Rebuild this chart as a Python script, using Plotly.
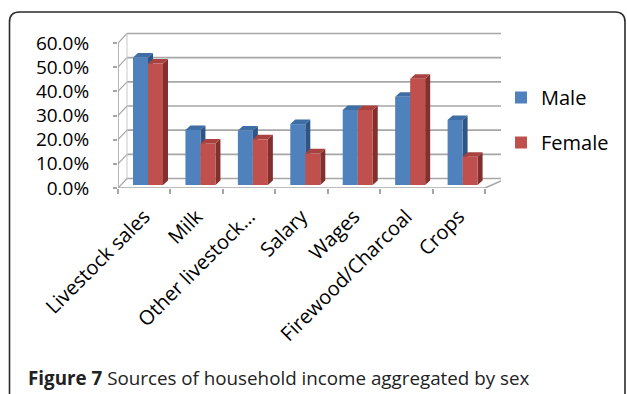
import plotly.graph_objects as go

categories = ["Livestock sales", "Milk", "Other livestock…", "Salary", "Wages",
              "Firewood/Charcoal", "Crops"]
male = [52.8, 22.8, 22.5, 25.2, 31.0, 36.5, 26.9]
female = [50.3, 17.2, 18.9, 13.1, 31.0, 44.0, 11.7]
y_ticks = [0, 10, 20, 30, 40, 50, 60]
series_names = ["Male", "Female"]

# ---- layout geometry (pixels) ----
W, H = 627, 394
PL, PR, PT, PB = 118, 501, 32, 188        # plot area edges
n = len(categories)
XU = (485 - 118) / n                      # px per category unit
YU = (188 - 43) / 60.0                    # px per percent
x_lo = -0.5
x_hi = x_lo + (PR - PL) / XU
y_lo = 0.0
y_hi = (PB - PT) / YU

def ux(px):  # pixels -> x data units
    return px / XU

def uy(px):
    return px / YU

# 3D offsets
BX, BY = ux(9), uy(9.5)       # back wall
DX, DY = ux(5), uy(4.5)       # bar depth
BASE = uy(3)                  # bar base lift
BW = ux(15)                   # bar width
SHIFT = ux(3.8)

blue, red = "#4F81BD", "#C0504D"
blue_top, blue_side = "#3F6DA6", "#2F5587"
red_top, red_side = "#A9423F", "#82302E"
grid = "#A6A6A6"

fig = go.Figure()
offsets = [SHIFT - BW, SHIFT]
colors = [blue, red]
for name, vals, off, col in zip(series_names, [male, female], offsets, colors):
    fig.add_trace(go.Bar(
        x=list(range(n)), y=vals, base=[BASE] * n, name=name,
        width=BW, offset=off, marker=dict(color=col, line=dict(width=0)),
        legendgroup=name))

shapes = []
# back wall gridlines + side wall diagonals
for v in y_ticks:
    shapes.append(dict(type="line", xref="x", yref="y",
                       x0=x_lo + BX, x1=x_hi, y0=v + BY, y1=v + BY,
                       line=dict(color=grid, width=1.6), layer="below"))
    shapes.append(dict(type="line", xref="x", yref="y",
                       x0=x_lo, x1=x_lo + BX, y0=v, y1=v + BY,
                       line=dict(color=grid, width=1.2), layer="below"))
# back wall left vertical
shapes.append(dict(type="line", xref="x", yref="y",
                   x0=x_lo + BX, x1=x_lo + BX, y0=BY, y1=60 + BY,
                   line=dict(color="#C8C8C8", width=1), layer="below"))
# front axes
shapes.append(dict(type="line", xref="x", yref="y",
                   x0=x_lo, x1=x_lo, y0=0, y1=60,
                   line=dict(color=grid, width=1.6), layer="below"))
shapes.append(dict(type="line", xref="x", yref="y",
                   x0=x_lo, x1=n - 0.5, y0=0, y1=0,
                   line=dict(color=grid, width=1.6), layer="below"))
# floor right edge
shapes.append(dict(type="line", xref="x", yref="y",
                   x0=n - 0.5, x1=x_hi, y0=0, y1=uy(7),
                   line=dict(color=grid, width=1.6), layer="below"))

# bar 3D faces, computed from the data
for vals, off, top_c, side_c in [(male, offsets[0], blue_top, blue_side),
                                 (female, offsets[1], red_top, red_side)]:
    for i, v in enumerate(vals):
        x0 = i + off
        x1 = x0 + BW
        b = BASE
        t = BASE + v
        top = f"M {x0},{t} L {x1},{t} L {x1+DX},{t+DY} L {x0+DX},{t+DY} Z"
        side = f"M {x1},{b} L {x1},{t} L {x1+DX},{t+DY} L {x1+DX},{b+DY} Z"
        shapes.append(dict(type="path", xref="x", yref="y", path=side,
                           fillcolor=side_c, line=dict(width=0), layer="below"))
        shapes.append(dict(type="path", xref="x", yref="y", path=top,
                           fillcolor=top_c, line=dict(width=0), layer="below"))

# outer rounded frame (paper coords)
pw, ph = PR - PL, PB - PT
def px2paper(px, py):
    return (px - PL) / pw, (PB - py) / ph
r = 10
fx0, fy0, fx1, fy1 = 9.5, 12, 625, 420
def P(px, py):
    a, b = px2paper(px, py)
    return f"{a},{b}"
frame = (f"M {P(fx0, fy1)} L {P(fx0, fy0 + r)} Q {P(fx0, fy0)} {P(fx0 + r, fy0)} "
         f"L {P(fx1 - r, fy0)} Q {P(fx1, fy0)} {P(fx1, fy0 + r)} L {P(fx1, fy1)}")
shapes.append(dict(type="path", xref="paper", yref="paper", path=frame,
                   line=dict(color="#2b2b2b", width=1.6)))

cap_x, cap_y = px2paper(26, 378)
lg_x, lg_y = px2paper(501, 78)

fig.update_layout(
    width=W, height=H,
    margin=dict(l=PL, r=W - PR, t=PT, b=H - PB, pad=0),
    paper_bgcolor="white", plot_bgcolor="white",
    barmode="overlay",
    shapes=shapes,
    font=dict(family="Open Sans", size=19, color="black"),
    xaxis=dict(range=[x_lo, x_hi], showgrid=False, zeroline=False, showline=False,
               tickvals=[i + 0.0 for i in range(n)], ticktext=categories,
               tickangle=-45, ticks="", ticklabelstandoff=12,
               tickfont=dict(size=20),
               minor=dict(tickvals=[i - 0.5 for i in range(n + 1)], ticks="outside",
                          ticklen=5, tickcolor=grid, tickwidth=1.5, showgrid=False)),
    yaxis=dict(range=[y_lo, y_hi], showgrid=False, zeroline=False, showline=False,
               tickvals=y_ticks, ticktext=[f"{v:.1f}%" for v in y_ticks],
               ticks="outside", ticklen=4, tickcolor=grid, tickwidth=1.5,
               ticklabelstandoff=20, tickfont=dict(size=19)),
    legend=dict(x=lg_x, y=lg_y, xanchor="left", yanchor="top",
                font=dict(size=20), tracegroupgap=16, itemwidth=30,
                bgcolor="rgba(0,0,0,0)"),
    showlegend=True,
    annotations=[dict(xref="paper", yref="paper", x=cap_x, y=cap_y,
                      xanchor="left", yanchor="middle", showarrow=False,
                      text="<b>Figure 7</b> Sources of household income aggregated by sex",
                      font=dict(family="Open Sans", size=18.8, color="#222222"))],
)

fig.write_html("out.html")
